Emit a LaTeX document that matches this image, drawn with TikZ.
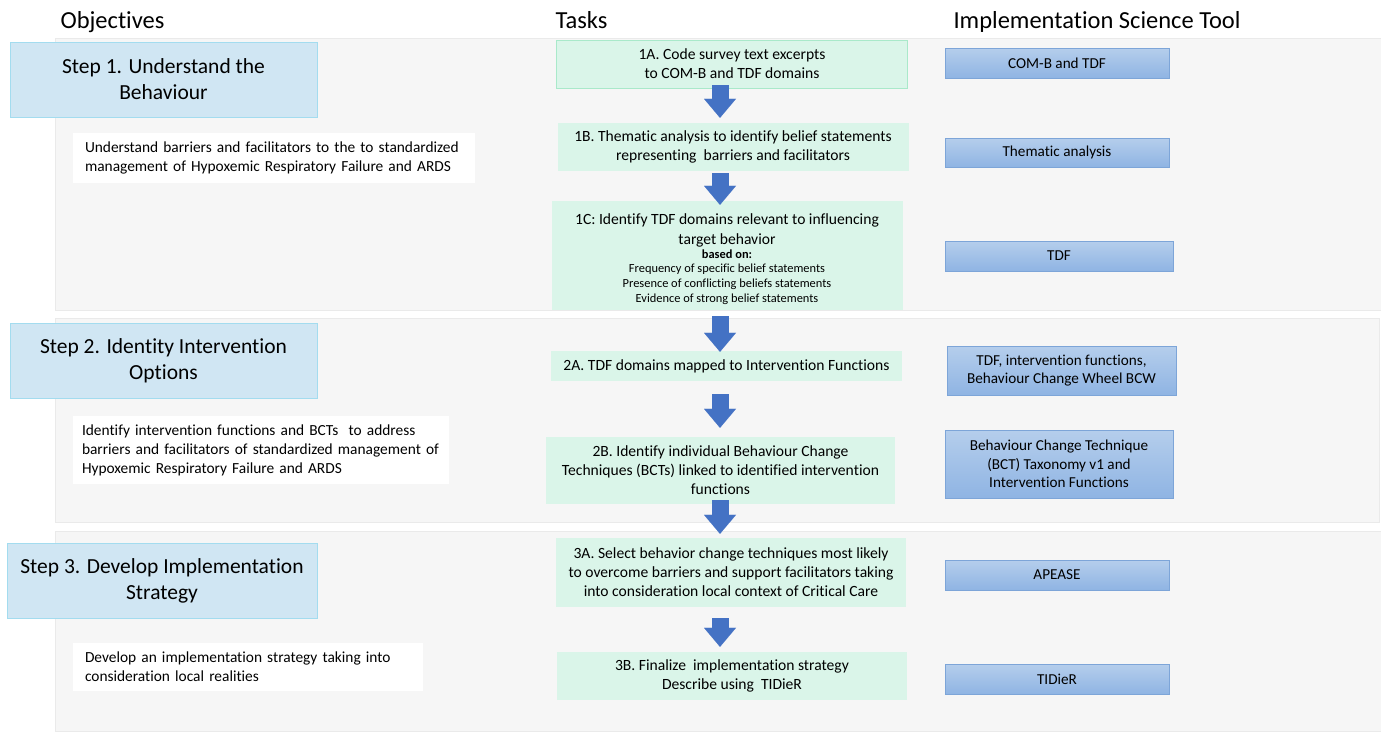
\documentclass[tikz,border=0pt]{standalone}
\usepackage{fontspec}
\setmainfont{Carlito}[Ligatures=NoCommon]
\usetikzlibrary{arrows.meta}

\definecolor{bandgray}{HTML}{F6F6F6}
\definecolor{bandline}{HTML}{EAEAEA}
\definecolor{stepfill}{HTML}{D0E6F3}
\definecolor{stepline}{HTML}{A3DCEF}
\definecolor{taskfill}{HTML}{DAF5E9}
\definecolor{taskline}{HTML}{A9E9CA}
\definecolor{tooltop}{HTML}{B5CEEC}
\definecolor{toolbot}{HTML}{8FB4E3}
\definecolor{toolline}{HTML}{7DA5D8}
\definecolor{arrowblue}{HTML}{4472C4}

\tikzset{
  header/.style={anchor=base west, font=\fontsize{24.5}{28}\selectfont},
  band/.style={fill=bandgray, draw=bandline},
  stepbox/.style={draw=stepline, fill=stepfill, align=center, minimum width=307pt,
    minimum height=75pt, inner sep=0pt, font=\fontsize{21.5}{26}\selectfont},
  objbox/.style={fill=white, align=left, inner xsep=12pt, inner ysep=0pt,
    font=\fontsize{15.4}{19}\selectfont},
  taskbox/.style={fill=taskfill, align=center, minimum width=351pt, inner sep=0pt,
    font=\fontsize{15.6}{19}\selectfont},
  toolbox/.style={draw=toolline, top color=tooltop, bottom color=toolbot, align=center,
    minimum width=224pt, minimum height=30pt, inner sep=0pt,
    font=\fontsize{15.2}{18.5}\selectfont},
  blockarrow/.style={draw=arrowblue, line width=17pt,
    -{Triangle[width=32pt, length=19pt, line width=0.01pt, fill=arrowblue]}}
}

\begin{document}
\begin{tikzpicture}[x=1pt, y=-1pt]
  \useasboundingbox (0,0) rectangle (1381,731);

  % column headings
  \node [header] (hobj) at (57,28) {Objectives};
  \node [header] (htask) at (552,28) {Tasks};
  \node [header] (htool) at (950,28) {Implementation Science Tool};

  % grey bands
  \draw [band] (55,38) rectangle (1381,310);
  \draw [band] (55,318) rectangle (1379,522);
  \draw [band] (55,531) rectangle (1381,731);

  % objectives
  \node [stepbox] (step1) at (163.5,79.5) {Step 1. Understand the\\Behaviour};
  \node [stepbox] (step2) at (163.5,361) {Step 2. Identity Intervention\\Options};
  \node [stepbox, minimum width=310pt] (step3) at (162,581) {Step 3. Develop Implementation\\Strategy};

  \node [objbox, text width=378pt, minimum height=50pt] (obj1) at (274,158)
    {Understand barriers and facilitators to the to standardized\\management of Hypoxemic Respiratory Failure and ARDS};
  \node [objbox, inner xsep=9pt, text width=358pt, minimum height=68pt] (obj2) at (261,450)
    {Identify intervention functions and BCTs~ to address\\barriers and facilitators of standardized management of\\Hypoxemic Respiratory Failure and ARDS};
  \node [objbox, text width=326pt, minimum height=48pt] (obj3) at (248,667)
    {Develop an implementation strategy taking into\\consideration local realities};

  % tasks
  \node [taskbox, draw=taskline, minimum height=48pt] (t1a) at (732,64)
    {1A. Code survey text excerpts\\to COM-B and TDF domains};
  \node [taskbox, minimum height=48pt] (t1b) at (733,147)
    {1B. Thematic analysis to identify belief statements\\representing~ barriers and facilitators};
  \node [taskbox, minimum height=109pt] (t1c) at (727,255.5)
    {\rule{0pt}{17.5pt}1C: Identify TDF domains relevant to influencing\\[1pt]target behavior\\[-5pt]
     {\fontsize{12.4}{15}\selectfont\bfseries based on:}\\[-5pt]
     {\fontsize{12.4}{15}\selectfont Frequency of specific belief statements}\\[-4pt]
     {\fontsize{12.4}{15}\selectfont Presence of conflicting beliefs statements}\\[-4pt]
     {\fontsize{12.4}{15}\selectfont Evidence of strong belief statements}};
  \node [taskbox, minimum height=30pt] (t2a) at (726.5,366)
    {2A. TDF domains mapped to Intervention Functions};
  \node [taskbox, minimum width=349pt, minimum height=67pt] (t2b) at (720.5,470.5)
    {2B. Identify individual Behaviour Change\\Techniques (BCTs) linked to identified intervention\\functions};
  \node [taskbox, minimum width=350pt, minimum height=69pt] (t3a) at (731,572.5)
    {3A. Select behavior change techniques most likely\\to overcome barriers and support facilitators taking\\into consideration local context of Critical Care};
  \node [taskbox, minimum width=350pt, minimum height=48pt] (t3b) at (732,676)
    {3B. Finalize~ implementation strategy\\Describe using~ TIDieR};

  % tools
  \node [toolbox] (tool1a) at (1057,63) {COM-B and TDF};
  \node [toolbox, minimum height=29pt] (tool1b) at (1057,152.5) {Thematic analysis};
  \node [toolbox, minimum width=228pt] (tool1c) at (1059,256) {TDF};
  \node [toolbox, minimum width=229pt, minimum height=49pt] (tool2a) at (1061.5,370.5)
    {TDF, intervention functions,\\Behaviour Change Wheel BCW};
  \node [toolbox, minimum width=228pt, minimum height=68pt] (tool2b) at (1059,464)
    {Behaviour Change Technique\\(BCT) Taxonomy v1 and\\Intervention Functions};
  \node [toolbox] (tool3a) at (1057,575) {APEASE};
  \node [toolbox] (tool3b) at (1057,679) {TIDieR};

  % task flow
  \coordinate (ax) at (720,0);
  \draw [blockarrow, shorten <=-3pt, shorten >=5pt] (t1a.south -| ax) -- (t1b.north -| ax);
  \draw [blockarrow, shorten <=2pt, shorten >=-4pt] (t1b.south -| ax) -- (t1c.north -| ax);
  \draw [blockarrow, shorten <=6pt, shorten >=-1pt] (t1c.south -| ax) -- (t2a.north -| ax);
  \draw [blockarrow, shorten <=13pt, shorten >=9pt] (t2a.south -| ax) -- (t2b.north -| ax);
  \draw [blockarrow, shorten <=-4pt, shorten >=4pt] (t2b.south -| ax) -- (t3a.north -| ax);
  \draw [blockarrow, shorten <=11pt, shorten >=5pt] (t3a.south -| ax) -- (t3b.north -| ax);
\end{tikzpicture}
\end{document}
